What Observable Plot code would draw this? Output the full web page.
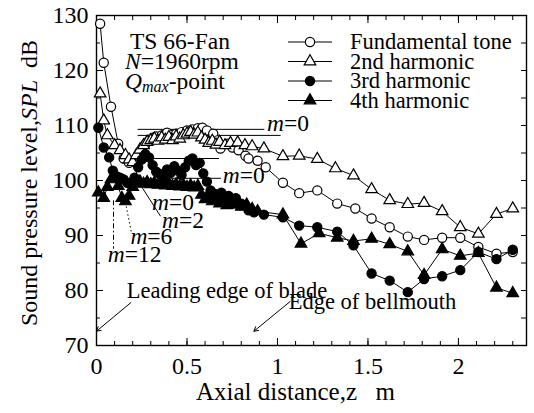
<!DOCTYPE html>
<html>
<head>
<meta charset="utf-8">
<script src="https://cdn.jsdelivr.net/npm/d3@7"></script>
<script src="https://cdn.jsdelivr.net/npm/@observablehq/plot@0.6"></script>
<style>
  html, body { margin: 0; padding: 0; background: #fff; }
  #chart svg { display: block; }
</style>
</head>
<body>
<div id="chart"></div>
<script>
// Axial distance z (m) and SPL (dB) for each tone of the TS 66 fan
const fundZ = [0.02,0.04,0.08,0.12,0.15,0.18,0.21,0.23,0.25,0.27,0.29,0.31,0.33,0.36,0.39,0.42,0.44,0.47,0.50,0.53,0.56,0.585,0.61,0.645,0.668,0.685,0.724,0.751,0.785,0.823,0.84,0.89,0.935,1.03,1.12,1.22,1.33,1.43,1.52,1.62,1.72,1.81,1.91,2.01,2.11,2.21,2.30];
const fundV = [128.5,121.4,113.4,106.7,104.0,103.2,103.4,104.5,105.6,106.6,107.3,107.8,108.0,108.2,108.7,108.3,108.5,108.8,109.1,109.3,109.5,109.6,109.1,108.5,107.3,105.8,106.7,106.0,105.5,104.5,104.0,103.6,102.4,99.6,97.7,98.2,95.8,94.9,93.1,91.5,89.8,89.2,89.6,89.6,87.9,86.7,87.0];

const secZ = [0.02,0.04,0.06,0.10,0.13,0.16,0.18,0.20,0.22,0.24,0.26,0.28,0.30,0.32,0.34,0.36,0.38,0.40,0.42,0.44,0.46,0.48,0.50,0.52,0.54,0.56,0.58,0.60,0.62,0.64,0.66,0.68,0.71,0.74,0.78,0.82,0.86,0.925,1.03,1.12,1.22,1.32,1.42,1.52,1.62,1.72,1.81,1.91,2.01,2.11,2.21,2.30];
const secV = [115.8,110.9,108.2,106.4,105.5,104.6,103.8,103.3,104.6,105.6,106.4,107.0,107.3,107.6,107.2,107.8,107.4,107.9,107.3,108.0,107.6,108.2,108.5,108.8,108.3,108.7,107.8,107.4,106.8,107.2,106.5,107.0,106.4,106.8,106.9,106.4,106.2,105.8,104.4,104.5,103.9,102.2,100.9,98.4,96.4,95.7,95.9,94.4,91.5,90.3,93.9,94.9];

const thirdZ = [0.01,0.04,0.07,0.09,0.11,0.13,0.15,0.17,0.19,0.21,0.23,0.25,0.27,0.29,0.31,0.33,0.35,0.37,0.39,0.41,0.43,0.45,0.47,0.49,0.51,0.53,0.55,0.57,0.59,0.61,0.63,0.65,0.67,0.69,0.71,0.73,0.75,0.77,0.80,0.84,0.87,0.925,1.03,1.12,1.22,1.33,1.42,1.52,1.62,1.72,1.81,1.91,2.01,2.11,2.21,2.30];
const thirdV = [109.6,106.0,104.2,101.8,100.8,100.5,100.2,99.6,99.4,100.5,102.4,103.8,104.8,104.2,102.8,101.6,101.2,100.8,102.0,101.4,102.6,101.8,101.0,102.4,103.6,104.0,102.8,103.2,101.3,99.8,98.2,97.6,97.0,97.8,96.6,97.2,96.4,96.8,95.8,94.6,94.2,93.8,93.3,91.8,91.5,90.7,88.2,83.1,81.8,79.7,82.1,82.6,83.7,87.0,85.7,87.4];

const fourthZ = [0.01,0.04,0.06,0.08,0.10,0.12,0.14,0.16,0.18,0.20,0.22,0.24,0.26,0.28,0.30,0.32,0.34,0.36,0.38,0.40,0.42,0.44,0.46,0.48,0.50,0.52,0.54,0.56,0.58,0.60,0.62,0.64,0.66,0.68,0.70,0.72,0.74,0.76,0.78,0.80,0.83,0.86,0.89,1.03,1.13,1.23,1.33,1.42,1.52,1.62,1.72,1.81,1.91,2.01,2.11,2.21,2.30];
const fourthV = [97.8,96.8,98.8,100.2,100.6,99.0,96.8,96.2,97.2,98.8,99.6,99.8,99.4,99.7,99.3,99.6,99.2,99.5,99.1,99.4,99.0,99.3,98.9,99.2,98.8,99.1,98.7,99.0,97.4,96.6,97.4,96.2,97.0,95.8,96.6,95.5,96.2,95.6,96.0,95.2,95.6,94.8,94.4,93.8,88.5,90.4,89.6,89.0,89.4,88.4,87.1,82.8,87.5,86.3,86.8,80.5,79.5];

const seriesNames = ["Fundamental tone", "2nd harmonic", "3rd harmonic", "4th harmonic"];

// Axis ticks
const xLabelTicks = [0, 0.5, 1, 1.5, 2];
const yLabelTicks = [70, 80, 90, 100, 110, 120, 130];

// m = 0 reference levels and mode labels (z, SPL)
const modeLevels = [
  {z1: 0.23, z2: 0.93, v: 109.3},
  {z1: 0.23, z2: 1.02, v: 108.2},
  {z1: 0.20, z2: 0.68, v: 104.0},
  {z1: 0.41, z2: 0.69, v: 100.4}
];
const modeLabels = [
  {z: 0.945, v: 109.0, m: "0"},
  {z: 0.70, v: 99.4, m: "0"},
  {z: 0.31, v: 94.6, m: "0"},
  {z: 0.365, v: 91.2, m: "2"},
  {z: 0.19, v: 88.3, m: "6"},
  {z: 0.065, v: 85.1, m: "12"}
];
const modeLeaders = [
  {z1: 0.227, v1: 100.0, z2: 0.354, v2: 93.5, dash: null},
  {z1: 0.16, v1: 96.0, z2: 0.193, v2: 90.5, dash: "1.5,2.5"},
  {z1: 0.094, v1: 96.4, z2: 0.094, v2: 87.6, dash: "5,2.5,1.5,2.5"}
];
const arrows = [
  {z1: 0.19, v1: 77.8, z2: 0.0, v2: 72.6, text: "Leading edge of blade", tz: 0.17, tv: 78.6},
  {z1: 1.07, v1: 78.0, z2: 0.87, v2: 72.6, text: "Edge of bellmouth", tz: 1.065, tv: 76.6}
];

const toRows = (zs, vs, name) => zs.map((z, i) => ({z, v: vs[i], series: name}));
const fund = toRows(fundZ, fundV, seriesNames[0]);
const sec = toRows(secZ, secV, seriesNames[1]);
const third = toRows(thirdZ, thirdV, seriesNames[2]);
const fourth = toRows(fourthZ, fourthV, seriesNames[3]);

const styles = [
  {symbol: "circle", fill: "white", r: 4.6},
  {symbol: "triangle", fill: "white", r: 4.3},
  {symbol: "circle", fill: "black", r: 4.6},
  {symbol: "triangle", fill: "black", r: 4.3}
];
const sets = [fund, sec, third, fourth];

const serif = "'Liberation Serif', 'Times New Roman', serif";
const FS = 23.5;     // fan / mode annotations
const LEG_FS = 22.5; // legend and arrow captions
const TICK_FS = 24;  // tick labels
const minorX = d3.range(0, 2.36, 0.1).map(d => +d.toFixed(1));

const chart = Plot.plot({
  width: 534,
  height: 413,
  marginLeft: 96,
  marginRight: 8,
  marginTop: 15,
  marginBottom: 68,
  style: {fontFamily: serif, fontSize: TICK_FS + "px", color: "black", background: "white"},
  x: {domain: [0, 2.376]},
  y: {domain: [70, 130]},
  marks: [
    // inward minor and major ticks on all four sides
    Plot.axisX(minorX, {anchor: "bottom", tickSize: -4, tickFormat: () => "", label: null}),
    Plot.axisX(xLabelTicks, {anchor: "bottom", tickSize: -7, tickPadding: 18, tickFormat: d => String(d), fontSize: TICK_FS, label: null}),
    Plot.axisX(minorX, {anchor: "top", tickSize: -4, tickFormat: () => "", label: null}),
    Plot.axisX(xLabelTicks, {anchor: "top", tickSize: -7, tickFormat: () => "", label: null}),
    Plot.axisY(d3.range(75, 130, 10), {anchor: "left", tickSize: -4, tickFormat: () => "", label: null}),
    Plot.axisY(yLabelTicks, {anchor: "left", tickSize: -7, tickPadding: 15, tickFormat: d => String(d), fontSize: TICK_FS, label: null}),
    Plot.axisY(d3.range(75, 130, 5), {anchor: "right", tickSize: -6, tickFormat: () => "", label: null}),
    Plot.frame({stroke: "black", strokeWidth: 1.4}),
    // m = 0 reference levels and leaders
    Plot.ruleY(modeLevels, {x1: "z1", x2: "z2", y: "v", stroke: "black", strokeWidth: 1}),
    ...modeLeaders.map(d => Plot.link([d], {x1: "z1", y1: "v1", x2: "z2", y2: "v2", stroke: "black", strokeWidth: 1, strokeDasharray: d.dash})),
    Plot.arrow(arrows, {x1: "z1", y1: "v1", x2: "z2", y2: "v2", stroke: "black", strokeWidth: 1, headLength: 7, bend: 0}),
    // measured curves
    ...sets.map(s => Plot.line(s, {x: "z", y: "v", stroke: "black", strokeWidth: 1})),
    ...sets.map((s, i) => Plot.dot(s, {x: "z", y: "v", symbol: styles[i].symbol, r: styles[i].r, fill: styles[i].fill, stroke: "black", strokeWidth: 1.2}))
  ]
});

document.getElementById("chart").appendChild(chart);

const sx = chart.scale("x"), sy = chart.scale("y");
const X = z => sx.apply(z), Y = v => sy.apply(v);
const svg = d3.select(chart);
const g = svg.append("g")
  .attr("font-family", serif).attr("font-size", FS)
  .attr("fill", "black").attr("text-anchor", "start");

// axis titles
const xt = g.append("text").attr("x", 196).attr("y", 400).attr("font-size", 25);
xt.append("tspan").text("Axial distance,z");
xt.append("tspan").attr("dx", 6).text("\u2002m");
const yt = g.append("text").attr("transform", "translate(37,183) rotate(-90)").attr("text-anchor", "middle").attr("font-size", 24);
yt.append("tspan").text("Sound pressure level,");
yt.append("tspan").attr("font-style", "italic").text("SPL");
yt.append("tspan").text("\u2002dB");

// fan and operating point
g.append("text").attr("x", 130).attr("y", 49).text("TS 66-Fan");
const t2 = g.append("text").attr("x", 125).attr("y", 69);
t2.append("tspan").attr("font-style", "italic").text("N");
t2.append("tspan").text("=1960rpm");
const t3 = g.append("text").attr("x", 125).attr("y", 89);
t3.append("tspan").attr("font-style", "italic").text("Q");
t3.append("tspan").attr("font-style", "italic").attr("font-size", 16).attr("dy", 3).text("max");
t3.append("tspan").attr("dy", -3).text("-point");

// legend
const legX = 288, legW = 44, legTextX = 350, legY0 = 42, legDy = 19.5;
seriesNames.forEach((name, i) => {
  const y = legY0 + i * legDy;
  g.append("line").attr("x1", legX).attr("x2", legX + legW).attr("y1", y).attr("y2", y)
    .attr("stroke", "black").attr("stroke-width", 1);
  const st = styles[i];
  const sym = st.symbol === "circle" ? d3.symbolCircle : d3.symbolTriangle;
  g.append("path").attr("d", d3.symbol(sym, st.r * st.r * Math.PI)())
    .attr("transform", `translate(${legX + legW / 2},${y})`)
    .attr("fill", st.fill).attr("stroke", "black").attr("stroke-width", 1.2);
  g.append("text").attr("x", legTextX).attr("y", y + 7).attr("font-size", LEG_FS).text(name);
});

// mode labels
modeLabels.forEach(d => {
  const t = g.append("text").attr("x", X(d.z)).attr("y", Y(d.v));
  t.append("tspan").attr("font-style", "italic").text("m");
  t.append("tspan").text("=" + d.m);
});

// arrow captions
arrows.forEach(d => {
  g.append("text").attr("x", X(d.tz)).attr("y", Y(d.tv)).attr("font-size", LEG_FS).text(d.text);
});
</script>
</body>
</html>
